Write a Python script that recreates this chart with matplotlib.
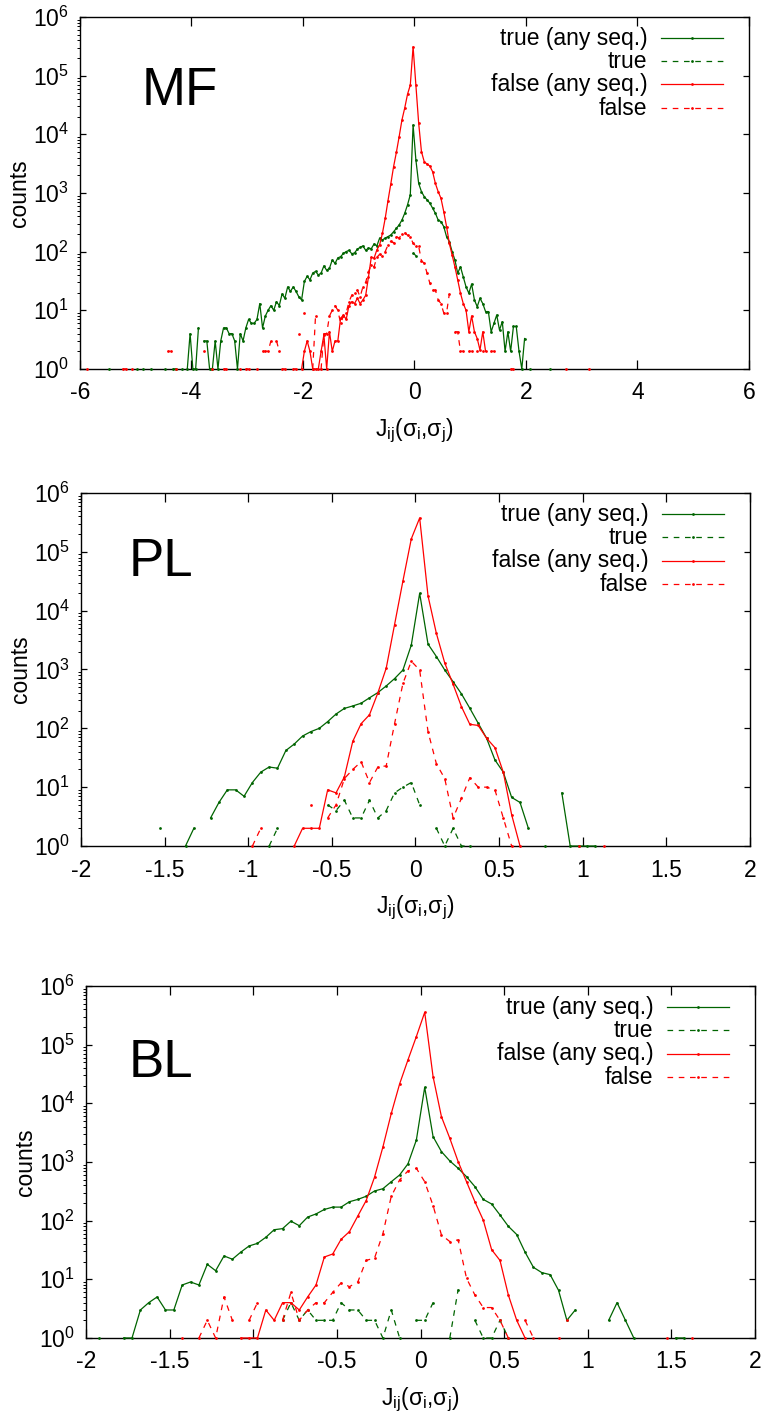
import numpy as np
import matplotlib
matplotlib.use("Agg")
import matplotlib.pyplot as plt
from matplotlib.ticker import FixedLocator, LogLocator, NullFormatter, FuncFormatter

plt.rcParams['font.family'] = ['Liberation Sans', 'DejaVu Sans']
plt.rcParams['mathtext.fontset'] = 'custom'
plt.rcParams['mathtext.rm'] = 'Liberation Sans'
plt.rcParams['mathtext.it'] = 'Liberation Sans'
plt.rcParams['axes.unicode_minus'] = False

BW = 0.05  # histogram bin width, bin centres at odd multiples of 0.025

# each series = list of (first bin centre, consecutive non-zero counts); empty bins break the line
# ---- MF ----
mf_true_any = [(-5.475, [1]), (-4.975, [1]), (-4.875, [1]), (-4.725, [1]), (-4.475, [1]),
               (-4.325, [1, 1]), (-4.175, [1]), (-4.075, [1, 4, 1, 1, 5]),
               (-3.775, [3, 3, 1, 1, 3, 1, 3, 5, 5, 4, 4, 3, 1, 4, 3, 5, 7, 6, 6, 7,
                         13, 5, 8, 10, 12, 10, 14, 12, 19, 16, 25, 21, 25, 21, 17, 15,
                         31, 38, 33, 43, 46, 40, 43, 57, 48, 52, 72, 63, 78, 82, 93, 100,
                         105, 92, 95, 110, 118, 125, 105, 115, 112, 135, 125, 170, 158, 170,
                         180, 192, 218, 250, 285, 345, 450, 625, 930, 14400,
                         3650, 1450, 1050, 865, 760, 670, 550, 450, 345, 323,
                         267, 180, 148, 100, 72, 43, 55, 37, 25, 19.5,
                         28, 15, 11.5, 16, 13, 9.5, 9.5, 4.3, 6, 8.3,
                         4.6, 6.4, 2, 4.3, 2, 5.3, 5.3, 2, 1, 3.3]),
               (2.075, [1]), (2.425, [1])]
mf_true = [(-0.025, [95, 85])]
mf_false_any = [(-5.875, [1]), (-5.225, [1, 1]), (-5.075, [1]),
                (-2.025, [1, 2, 3, 2, 1, 1, 1, 2, 3.8, 1, 4.3, 2, 3, 3, 7.3, 8.3, 7, 12, 14, 13,
                          16, 13, 15, 18, 37, 80, 77, 107, 130, 205, 370, 740, 1420, 2800,
                          4900, 9100, 17500, 28000, 48000, 69000, 310000,
                          69000, 15500, 5050, 3400, 3100, 2870, 2300, 1450, 1050, 810,
                          480, 267, 138, 88, 55, 33, 19.5, 13, 10, 4.3, 8, 4.3, 3.3, 2.1, 4.3, 2]),
                (2.725, [1]), (3.125, [1])]
mf_false = [(-4.425, [2, 2]), (-4.275, [1]), (-3.775, [2]), (-3.625, [1]), (-3.425, [1, 1]),
            (-3.125, [1]), (-3.025, [1, 1]), (-2.825, [1]), (-2.725, [2, 2, 2, 3]),
            (-2.475, [3, 2]), (-2.375, [1, 1]), (-2.175, [1, 1]), (-2.075, [4]), (-1.975, [9]),
            (-1.825, [1, 8]),
            (-1.675, [1, 4, 4, 8, 10, 12, 10, 6, 8, 9, 14, 18, 20, 22, 17, 25, 30, 45, 60, 55,
                      80, 90, 85, 100, 130, 150, 140, 180, 170, 200, 210, 190, 180,
                      138, 125, 123, 70, 63, 43, 29, 22, 22, 15, 13, 9, 9, 19]),
            (0.725, [4.3, 4.3, 2, 2]), (0.975, [2, 2]), (1.125, [2]), (1.225, [2]),
            (1.375, [2, 2]), (1.725, [1, 1])]

# ---- PL ----
pl_true_any = [(-1.525, [2]), (-1.375, [1, 2]),
               (-1.225, [3, 5.5, 9, 9, 7, 12, 18, 22, 21, 42, 54, 74, 88, 100, 130, 175, 218,
                         240, 267, 330, 405, 525, 700, 980, 2600, 19700, 2700, 1660, 980, 620,
                         385, 219, 122, 68, 29, 18, 6.7, 5.5, 2]),
               (0.775, [1]), (0.875, [8, 1, 1, 1, 1])]
pl_true = [(-0.875, [1, 2]),
           (-0.525, [5, 4, 6, 3, 3, 6, 3, 4, 8, 10, 12, 5]),
           (0.125, [2, 1, 2, 1, 1])]
pl_false_any = [(-0.725, [1, 2, 2, 2, 9, 8, 15, 60, 120, 170, 400, 1050, 5800, 32000, 166000,
                          376000, 17800, 4100, 1290, 560, 233, 117, 112, 68, 47, 18, 3.4, 1]),
                (0.975, [1]), (1.125, [1])]
pl_false = [(-0.975, [1, 2]), (-0.625, [5]),
            (-0.525, [3, 5, 14, 20, 27, 12, 22, 23, 120, 580, 1380, 980, 88, 25, 14, 3, 6.5,
                      14.5, 10, 10, 9, 3, 1])]

# ---- BL ----
bl_true_any = [(-1.925, [1]),
               (-1.775, [1, 1, 3, 4, 5, 3, 3, 8, 9, 8, 18, 14, 25, 22, 29, 37, 41, 52, 70, 73,
                         98, 82, 115, 130, 155, 170, 170, 210, 230, 260, 320, 350, 460, 600,
                         930, 2360, 18700, 2700, 1500, 1040, 780, 560, 380, 230, 192, 125,
                         80, 58, 29, 16, 13, 12, 6.5, 2, 3]),
               (1.125, [2, 4, 2, 1]), (1.525, [1, 1])]
bl_true = [(-0.825, [2, 4, 2, 3, 2, 2, 2, 4, 3, 3, 2, 2, 1, 3, 1]),
           (-0.025, [2, 2, 4]), (0.175, [1, 6.7]), (0.325, [2, 1, 1, 2, 1])]
bl_false_any = [(-1.075, [1, 1, 1, 3, 2, 4, 4, 3, 5, 8, 24, 27, 48, 65, 120, 220, 550, 1800,
                          6700, 21400, 55000, 137000, 355000, 28400, 5900, 2530, 1010, 460,
                          210, 102, 32, 21, 5.4, 2, 1]),
                (0.875, [2]), (1.475, [1]), (1.625, [1])]
bl_false = [(-1.425, [1]), (-1.325, [1, 2, 1, 5, 2]), (-1.025, [2, 4]),
            (-0.825, [2, 6, 2, 3, 4, 4, 6, 8.7, 7.5, 9, 21, 23, 60, 260, 495, 705, 780, 460,
                      180, 57, 44, 47, 10.4, 5.4, 3.3, 3.3, 2, 1]),
            (0.625, [2, 1]), (0.825, [1])]

panels = [
    ("MF", [mf_true_any, mf_true, mf_false_any, mf_false], (-6, 6), [-6, -4, -2, 0, 2, 4, 6],
     [0.1044, 0.7400, 0.8734, 0.2481], (0.092, 0.75)),
    ("PL", [pl_true_any, pl_true, pl_false_any, pl_false], (-2, 2),
     [-2, -1.5, -1, -0.5, 0, 0.5, 1, 1.5, 2], [0.1057, 0.4038, 0.8734, 0.2488], (0.071, 0.765)),
    ("BL", [bl_true_any, bl_true, bl_false_any, bl_false], (-2, 2),
     [-2, -1.5, -1, -0.5, 0, 0.5, 1, 1.5, 2], [0.1123, 0.0571, 0.8734, 0.2481], (0.063, 0.742)),
]

labels = ["true (any seq.)", "true", "false (any seq.)", "false"]
colors = ["#006400", "#006400", "#ff0000", "#ff0000"]
styles = ["-", (0, (4.5, 4.5)), "-", (0, (4.5, 4.5))]


def build(segments):
    xs, ys = [], []
    for x0, vals in segments:
        if xs:
            xs.append(np.nan)
            ys.append(np.nan)
        for i, v in enumerate(vals):
            xs.append(x0 + i * BW)
            ys.append(v)
    return np.array(xs), np.array(ys)


def fmt_x(v, pos):
    return "%g" % v


def fmt_y(v, pos):
    return r"$\mathregular{10^{%d}}$" % round(np.log10(v))


fig = plt.figure(figsize=(7.66, 14.19), dpi=100)
FS = 16.5

for name, data, xlim, xticks, rect, tpos in panels:
    ax = fig.add_axes(rect)
    for segs, lab, col, ls in zip(data, labels, colors, styles):
        x, y = build(segs)
        ax.plot(x, y, color=col, lw=0.9, ls=ls, marker="o", ms=2.0, mew=0,
                clip_on=False, zorder=3)
    ax.set_yscale("log")
    ax.set_ylim(1, 1e6)
    ax.set_xlim(*xlim)
    ax.xaxis.set_major_locator(FixedLocator(xticks))
    ax.xaxis.set_major_formatter(FuncFormatter(fmt_x))
    ax.yaxis.set_major_locator(LogLocator(base=10, numticks=10))
    ax.yaxis.set_major_formatter(FuncFormatter(fmt_y))
    ax.yaxis.set_minor_locator(LogLocator(base=10, subs=np.arange(2, 10), numticks=20))
    ax.yaxis.set_minor_formatter(NullFormatter())
    ax.tick_params(direction="in", top=True, right=True, labelsize=FS, width=0.9)
    ax.tick_params(axis="x", which="major", length=6.5, pad=9)
    ax.tick_params(axis="y", which="major", length=4, pad=8)
    ax.tick_params(axis="y", which="minor", length=2.5, width=0.7)
    for sp in ax.spines.values():
        sp.set_linewidth(1.0)
    ax.set_ylabel("counts", fontsize=FS, labelpad=1)
    ax.set_xlabel(r"$\mathregular{J_{ij}(\sigma_i{,}\sigma_j)}$", fontsize=FS, labelpad=9)
    ax.text(tpos[0], tpos[1], name, transform=ax.transAxes, fontsize=38,
            ha="left", va="baseline")

    # gnuplot-style key: right-aligned labels, samples to the right
    rows = [0.940, 0.874, 0.808, 0.741]
    for lab, col, ls, yr in zip(labels, colors, styles, rows):
        ax.text(0.848, yr, lab, transform=ax.transAxes, fontsize=FS,
                ha="right", va="center")
        ax.plot([0.869, 0.961], [yr, yr], transform=ax.transAxes, color=col, lw=0.9,
                ls=ls, clip_on=False)
        ax.plot([0.915], [yr], transform=ax.transAxes, color=col, marker="o", ms=2.0,
                mew=0, clip_on=False)

fig.savefig("out.png", dpi=100)
